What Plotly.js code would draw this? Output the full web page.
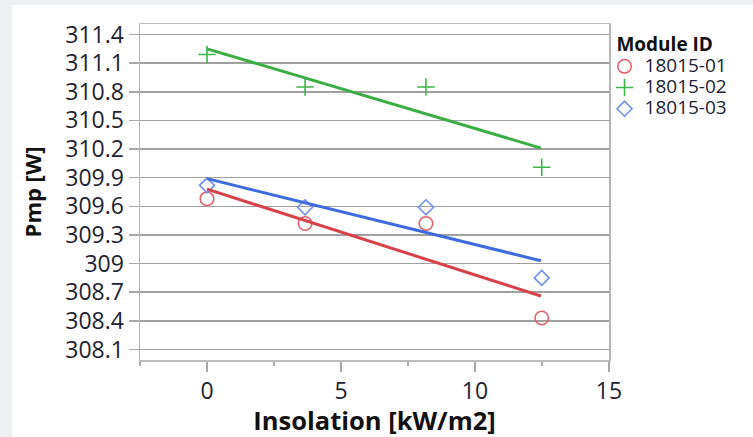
<!DOCTYPE html>
<html>
<head>
<meta charset="utf-8">
<script src="https://cdn.plot.ly/plotly-3.0.1.min.js"></script>
<style>
  html, body { margin: 0; padding: 0; width: 753px; height: 437px; overflow: hidden; background: #EEF0F2; }
  #chart { position: absolute; left: 12px; top: 5px; width: 741px; height: 432px; background: #ffffff; }
</style>
</head>
<body>
<div id="chart"></div>
<script>
// ---- data ----
const seriesNames = ['18015-01', '18015-02', '18015-03'];
const insolation = [0, 3.66, 8.17, 12.49];
const pmp01 = [309.68, 309.42, 309.42, 308.43];
const pmp02 = [311.19, 310.85, 310.85, 310.01];
const pmp03 = [309.82, 309.59, 309.59, 308.85];
// fitted lines (end points)
const fitX = [0, 12.46];
const fit01 = [309.78, 308.66];
const fit02 = [311.25, 310.21];
const fit03 = [309.89, 309.03];
// tick labels
const yTickVals = [308.1, 308.4, 308.7, 309.0, 309.3, 309.6, 309.9, 310.2, 310.5, 310.8, 311.1, 311.4];
const yTickText = ['308.1', '308.4', '308.7', '309', '309.3', '309.6', '309.9', '310.2', '310.5', '310.8', '311.1', '311.4'];
const xTickVals = [0, 5, 10, 15];
const xTickText = ['0', '5', '10', '15'];

const markerColors = ['#E2606B', '#3DB54A', '#6F8FF2'];
const lineColors = ['#D8404C', '#3AAE45', '#3E6BE0'];
const symbols = ['circle-open', 'cross-thin-open', 'diamond-open'];
const sizes = [13.5, 12.5, 11.5];
const ys = [pmp01, pmp02, pmp03];
const fits = [fit01, fit02, fit03];

const FONT = 'Open Sans, Noto Sans, sans-serif';
const traces = [];
for (let i = 0; i < 3; i++) {
  traces.push({
    type: 'scatter', mode: 'markers',
    x: insolation, y: ys[i],
    name: '<span style="font-size:19px">' + seriesNames[i] + '</span>',
    marker: { symbol: symbols[i], size: sizes[i], color: markerColors[i], line: { color: markerColors[i], width: 1.6 } },
    cliponaxis: false
  });
}
for (let i = 0; i < 3; i++) {
  traces.push({
    type: 'scatter', mode: 'lines',
    x: fitX, y: fits[i],
    showlegend: false, hoverinfo: 'skip',
    line: { color: lineColors[i], width: 3 }
  });
}

const layout = {
  width: 741, height: 432,
  margin: { l: 128, r: 144, t: 19, b: 77 },
  paper_bgcolor: '#ffffff',
  plot_bgcolor: '#ffffff',
  font: { family: FONT, color: '#222233' },
  showlegend: true,
  legend: {
    x: 0.9905, xanchor: 'left', y: 0.994, yanchor: 'top',
    font: { size: 14, family: FONT, color: '#222233' },
    title: { text: '<b>&nbsp;&nbsp;Module ID</b>', font: { size: 19, family: FONT, color: '#111111' } },
    bgcolor: 'rgba(0,0,0,0)', borderwidth: 0,
    itemclick: false
  },
  xaxis: {
    range: [-2.5, 15],
    tickmode: 'array', tickvals: xTickVals, ticktext: xTickText,
    ticks: 'outside', ticklen: 10, tickcolor: '#A8A8A8', tickwidth: 1.5,
    minor: { dtick: 2.5, tick0: 0, ticks: 'outside', ticklen: 4, tickcolor: '#A8A8A8', tickwidth: 1.5, showgrid: false },
    showgrid: false, zeroline: false,
    showline: true, linecolor: '#BDBDBD', linewidth: 1.5, mirror: true,
    tickfont: { size: 23, family: FONT, color: '#222233' },
    title: { text: '<b>Insolation [kW/m2]</b>', font: { size: 25.5, family: FONT, color: '#111111' }, standoff: 4 }
  },
  yaxis: {
    range: [307.99, 311.51],
    tickmode: 'array', tickvals: yTickVals, ticktext: yTickText,
    ticks: 'outside', ticklen: 10, tickcolor: '#A8A8A8', tickwidth: 1.5,
    showgrid: true, gridcolor: '#A0A0A0', gridwidth: 1.5,
    zeroline: false,
    showline: true, linecolor: '#B5B5B5', linewidth: 1.5, mirror: true,
    tickfont: { size: 23, family: FONT, color: '#222233' },
    title: { text: '<b>Pmp [W]</b>', font: { size: 22, family: FONT, color: '#111111' }, standoff: 17 }
  }
};

Plotly.newPlot('chart', traces, layout, { displayModeBar: false, staticPlot: true });
</script>
</body>
</html>
